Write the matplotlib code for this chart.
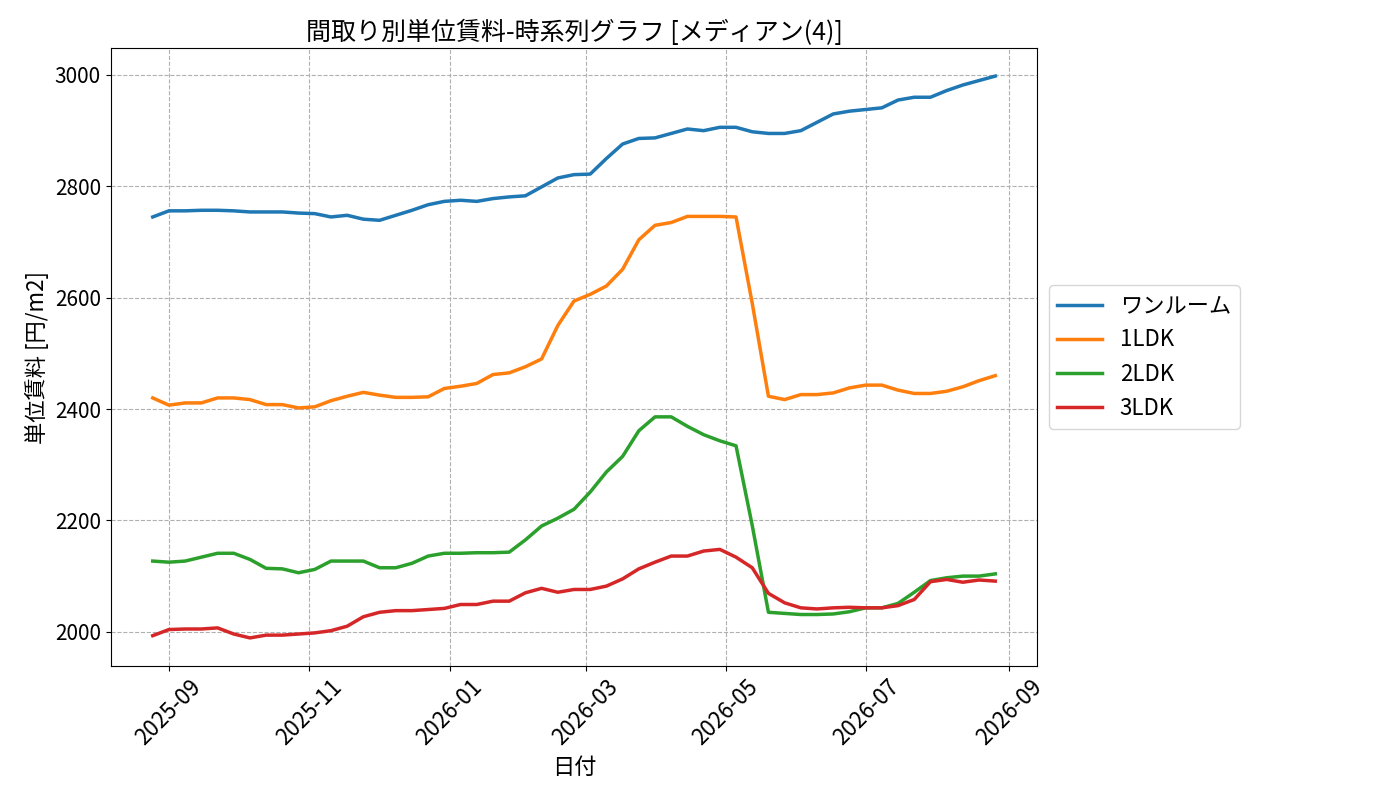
import pandas as pd
import matplotlib
import matplotlib.pyplot as plt
import matplotlib.dates as mdates
matplotlib.use('agg')

plt.rcParams['font.family'] = ['Noto Sans CJK JP', 'DejaVu Sans']

# weekly observation dates (53 points, Aug 2025 -> Aug 2026)
dates = pd.date_range('2025-08-25', '2026-08-26', periods=53)

one_room = [2745, 2756, 2756, 2757, 2757, 2756, 2754, 2754, 2754, 2752,
            2751, 2745, 2748, 2741, 2739, 2748, 2757, 2767, 2773, 2775,
            2773, 2778, 2781, 2783, 2799, 2815, 2821, 2822, 2850, 2876,
            2886, 2887, 2895, 2903, 2900, 2906, 2906, 2898, 2895, 2895,
            2900, 2915, 2930, 2935, 2938, 2941, 2955, 2960, 2960, 2972,
            2982, 2990, 2998]
ldk1 = [2420, 2407, 2411, 2411, 2420, 2420, 2417, 2408, 2408, 2402,
        2404, 2415, 2423, 2430, 2425, 2421, 2421, 2422, 2437, 2441,
        2446, 2462, 2465, 2476, 2490, 2550, 2594, 2606, 2621, 2651,
        2704, 2730, 2735, 2746, 2746, 2746, 2745, 2590, 2423, 2417,
        2426, 2426, 2429, 2438, 2443, 2443, 2434, 2428, 2428, 2432,
        2440, 2451, 2460]
ldk2 = [2127, 2125, 2127, 2134, 2141, 2141, 2130, 2114, 2113, 2106,
        2112, 2127, 2127, 2127, 2115, 2115, 2123, 2136, 2141, 2141,
        2142, 2142, 2143, 2165, 2190, 2204, 2220, 2251, 2287, 2315,
        2361, 2386, 2386, 2369, 2354, 2343, 2334, 2191, 2035, 2033,
        2031, 2031, 2032, 2036, 2043, 2043, 2051, 2071, 2092, 2097,
        2100, 2100, 2104]
ldk3 = [1993, 2004, 2005, 2005, 2007, 1996, 1989, 1994, 1994, 1996,
        1998, 2002, 2010, 2027, 2035, 2038, 2038, 2040, 2042, 2049,
        2049, 2055, 2055, 2070, 2078, 2071, 2076, 2076, 2082, 2095,
        2113, 2125, 2136, 2136, 2145, 2148, 2134, 2115, 2069, 2052,
        2043, 2041, 2043, 2044, 2043, 2043, 2047, 2058, 2090, 2094,
        2089, 2093, 2091]

series = {
    'ワンルーム': one_room,
    '1LDK': ldk1,
    '2LDK': ldk2,
    '3LDK': ldk3,
}

fig, ax = plt.subplots(figsize=(14, 8), dpi=100)
fig.subplots_adjust(left=0.079, right=0.741, top=0.94, bottom=0.1675)

for name, values in series.items():
    ax.plot(dates, values, linewidth=2.5, label=name)

ax.set_title('間取り別単位賃料-時系列グラフ [メディアン(4)]', fontsize=18)
ax.set_xlabel('日付', fontsize=16)
ax.set_ylabel('単位賃料 [円/m2]', fontsize=16)
ax.set_yticks([2000, 2200, 2400, 2600, 2800, 3000])
ax.tick_params(axis='y', labelsize=15)
ax.tick_params(axis='x', labelsize=16)
ax.xaxis.set_major_locator(mdates.MonthLocator(bymonth=[1, 3, 5, 7, 9, 11]))
ax.xaxis.set_major_formatter(mdates.DateFormatter('%Y-%m'))
plt.setp(ax.get_xticklabels(), rotation=45)
ax.grid(True, linestyle='--', color='#b0b0b0', linewidth=0.8)
ax.legend(loc='center left', bbox_to_anchor=(1, 0.5), fontsize=16)

fig.savefig('out.png')
plt.close(fig)
